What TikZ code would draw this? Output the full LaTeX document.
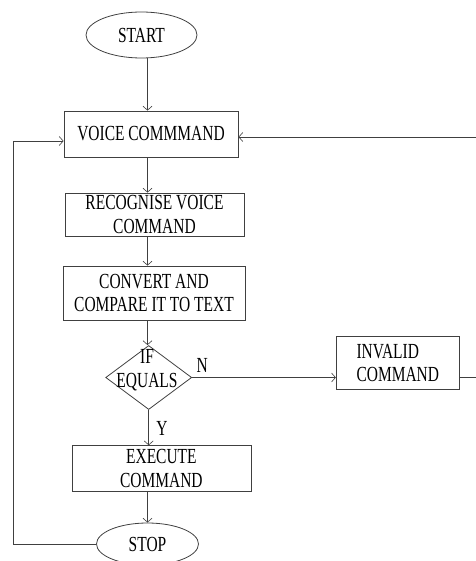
\documentclass[tikz,border=0pt]{standalone}
\usepackage{fontspec}
\setmainfont{Liberation Serif}[FakeStretch=0.72]
\usepackage{tikz}
\usetikzlibrary{arrows.meta,positioning,shapes.geometric,calc}

\tikzset{
  flow/.style={line width=0.8pt,draw=black!75},
  arr/.style={flow,-{Straight Barb[length=4pt,width=9pt,line width=0.6pt]}},
  stepbox/.style={draw=black!75,line width=0.8pt,rectangle,inner sep=0pt,align=center},
  term/.style={draw=black!75,line width=0.8pt,ellipse,inner sep=0pt},
  decide/.style={draw=black!75,line width=0.8pt,diamond,inner sep=0pt}
}

\begin{document}
\begin{tikzpicture}[x=1pt,y=-1pt,font=\fontsize{21.5}{23.5}\selectfont]
\useasboundingbox (0,0) rectangle (475,561);
\coordinate (axis) at (147.5,0);
\node[term,minimum width=111pt,minimum height=46pt] (start) at (141.5,35) {START};
\node[stepbox,minimum width=174pt,minimum height=46pt] (voice) at (151,134) {VOICE COMMMAND};
\node[stepbox,minimum width=179pt,minimum height=43pt] (recog) at (154.5,214.5) {RECOGNISE VOICE\\COMMAND};
\node[stepbox,minimum width=182pt,minimum height=54pt] (conv) at (154,293) {CONVERT AND\\COMPARE IT TO TEXT};
\node[decide,minimum width=86pt,minimum height=64pt] (dec) at (148.7,377.5) {};
\node[align=center,inner sep=0pt] (dectext) at (147,370) {IF\\EQUALS};
\node[stepbox,minimum width=123pt,minimum height=53pt,align=left] (invalid) at (397.8,363) {INVALID\\COMMAND};
\node[stepbox,minimum width=179pt,minimum height=46pt] (exec) at (161.4,468.7) {EXECUTE\\COMMAND};
\node[term,minimum width=102pt,minimum height=42pt] (stop) at (147.5,544) {STOP};
% main line
\draw[arr] (axis |- start.south) -- (axis |- voice.north);
\draw[arr] (axis |- voice.south) -- (axis |- recog.north);
\draw[arr] (axis |- recog.south) -- (axis |- conv.north);
\draw[arr] (axis |- conv.south) -- (axis |- dec.north);
\draw[arr] (dec.south) -- node[right,xshift=4pt,yshift=-1pt]{Y} (dec.south |- exec.north);
\draw[arr] (axis |- exec.south) -- (axis |- stop.north);
% branches
\draw[arr] (dec.east) -- node[pos=0.07,above,yshift=1pt]{N} (invalid.west |- dec.east);
\coordinate (back) at (480,137);
\draw[arr] (invalid.east |- dec.east) -- (back |- dec.east) -- (back) -- (back -| voice.east);
\coordinate (loop) at (13,141);
\draw[arr] (stop.west) -- (loop |- stop.west) -- (loop) -- (loop -| voice.west);
\end{tikzpicture}
\end{document}
